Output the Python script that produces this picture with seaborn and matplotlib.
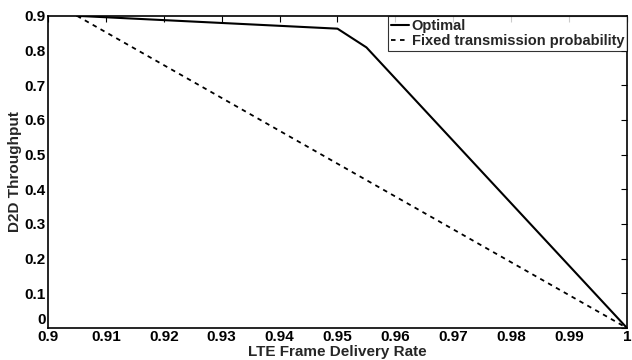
import matplotlib
matplotlib.use("Agg")
import matplotlib.pyplot as plt
import matplotlib.transforms as mtransforms
import seaborn as sns
import pandas as pd

# data
opt_x = [0.905, 0.95, 0.955, 1.0]
opt_y = [0.9, 0.863, 0.809, 0.0]
fixed_x = [0.905, 1.0]
fixed_y = [0.9, 0.0]

xticks = [0.9, 0.91, 0.92, 0.93, 0.94, 0.95, 0.96, 0.97, 0.98, 0.99, 1.0]
xtick_labels = ["0.9", "0.91", "0.92", "0.93", "0.94", "0.95", "0.96", "0.97", "0.98", "0.99", "1"]
yticks = [0, 0.1, 0.2, 0.3, 0.4, 0.5, 0.6, 0.7, 0.8, 0.9]
ytick_labels = ["0", "0.1", "0.2", "0.3", "0.4", "0.5", "0.6", "0.7", "0.8", "0.9"]

sns.set_style("white")
plt.rcParams['font.family'] = ['Liberation Sans', 'DejaVu Sans']
plt.rcParams['font.weight'] = 'bold'

df = pd.concat([
    pd.DataFrame({'x': opt_x, 'y': opt_y, 'series': 'Optimal'}),
    pd.DataFrame({'x': fixed_x, 'y': fixed_y, 'series': 'Fixed transmission probability'}),
])

fig = plt.figure(figsize=(6.32, 3.6), dpi=100)
ax = fig.add_axes([0.076, 0.089, 0.916, 0.867])

sns.lineplot(data=df[df.series == 'Optimal'], x='x', y='y', ax=ax, color='black',
             linewidth=1.5, label='Optimal', sort=False)
sns.lineplot(data=df[df.series != 'Optimal'], x='x', y='y', ax=ax, color='black',
             linewidth=1.3, linestyle=(0, (2.5, 2.5)), label='Fixed transmission probability', sort=False)

ax.set_xlim(0.9, 1.0)
ax.set_ylim(0, 0.9)
ax.set_xticks(xticks)
ax.set_xticklabels(xtick_labels)
ax.set_yticks(yticks)
ax.set_yticklabels(ytick_labels)
ax.tick_params(direction='in', length=4, width=0.8, top=True, right=True,
               labelsize=11, pad=1.5, colors='black')
for s in ax.spines.values():
    s.set_color('black')
    s.set_linewidth(1.2)

# lift the "0" y label off the corner, as in the reference
zero_lbl = ax.get_yticklabels()[0]
zero_lbl.set_transform(zero_lbl.get_transform() +
                       mtransforms.ScaledTranslation(0, 9 / 100, fig.dpi_scale_trans))

ax.set_xlabel('LTE Frame Delivery Rate', fontsize=11, fontweight='bold', labelpad=0.5)
ax.set_ylabel('D2D Throughput', fontsize=11, fontweight='bold', labelpad=2)

leg = ax.legend(loc='upper right', fontsize=10.5, frameon=True, fancybox=False,
                handlelength=1.2, handletextpad=0.2, borderpad=0.2, labelspacing=0.1,
                borderaxespad=0.0)
leg.get_frame().set_edgecolor('black')
leg.get_frame().set_linewidth(0.8)

fig.savefig('out.png', dpi=100)
